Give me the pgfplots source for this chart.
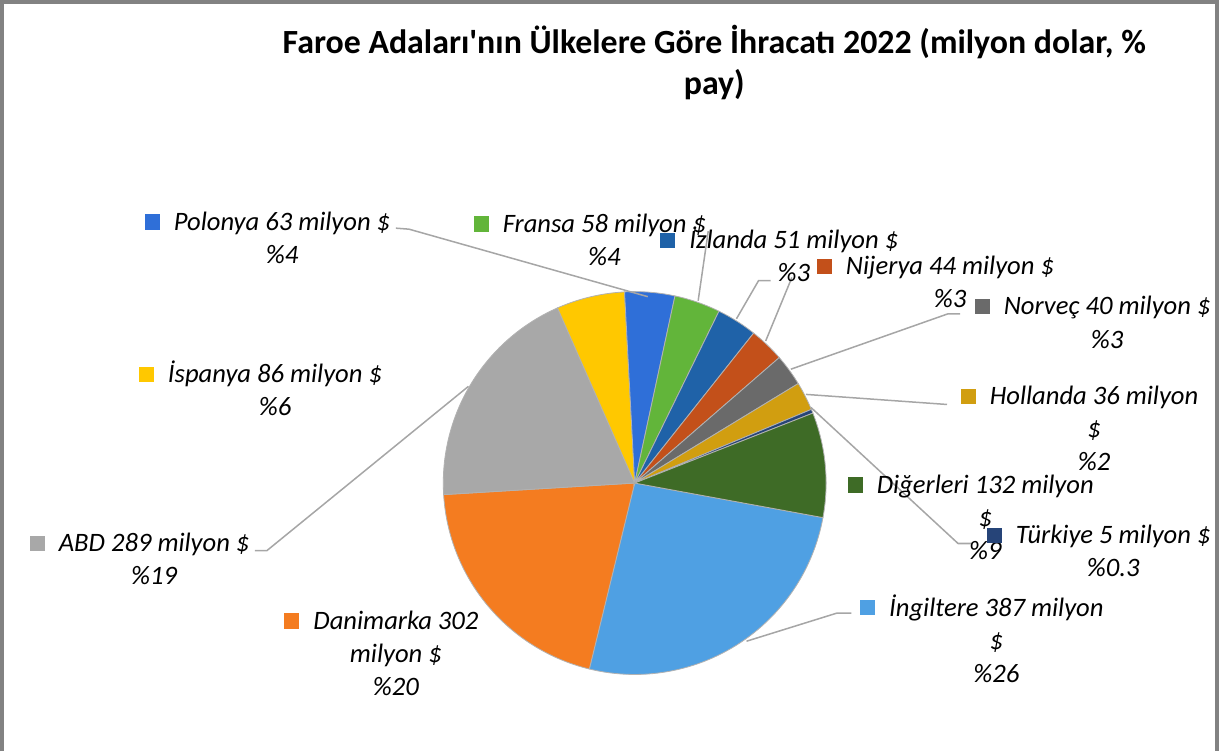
\documentclass[border=0pt]{standalone}
\usepackage{pgfplots}
\pgfplotsset{compat=1.18}
\usepackage{pgfplotstable}
\usepackage{fontspec}
\setmainfont{Carlito}[Ligatures=TeXOff]

\definecolor{c0}{HTML}{4FA0E3}
\definecolor{c1}{HTML}{F47C20}
\definecolor{c2}{HTML}{A8A8A8}
\definecolor{c3}{HTML}{FFC800}
\definecolor{c4}{HTML}{2F6FD8}
\definecolor{c5}{HTML}{62B53A}
\definecolor{c6}{HTML}{1F62A8}
\definecolor{c7}{HTML}{C3501A}
\definecolor{c8}{HTML}{6A6A6A}
\definecolor{c9}{HTML}{D19E10}
\definecolor{c10}{HTML}{264478}
\definecolor{c11}{HTML}{3E6B26}
\definecolor{bordergray}{HTML}{828282}
\definecolor{leadergray}{HTML}{A6A6A6}

% Exports 2022, million USD (data order of the original chart)
\pgfplotstableread{
country value
Ingiltere 387
Danimarka 302
ABD 289
Ispanya 86
Polonya 63
Fransa 58
Izlanda 51
Nijerya 44
Norvec 40
Hollanda 36
Turkiye 5
Digerleri 132
}\pietable

\newcommand\lbl[4]{%
  \node[anchor=base, inner sep=0pt,
        font=\fontsize{13.2}{16.5}\selectfont\itshape]
    at (axis cs:#1,#2)
    {\begin{tabular}[t]{@{}c@{}}\llap{\textcolor{#3}{\rule[0.3pt]{7.5pt}{7.5pt}}\hspace{7pt}}#4\end{tabular}};}

\begin{document}
\begin{tikzpicture}
\begin{axis}[
  x=0.5pt, y=0.5pt,
  xmin=0, xmax=1219, ymin=0, ymax=749,
  scale only axis, hide axis, clip=false,
]
% border
\draw[bordergray, line width=2pt] (axis cs:9,0) -- (axis cs:9,743.5) -- (axis cs:1215,743.5) -- (axis cs:1215,0);

% pie slices
\def\total{0}
\pgfplotsforeachungrouped \i in {0,...,11}{%
  \pgfplotstablegetelem{\i}{value}\of\pietable
  \pgfmathsetmacro\total{\total+\pgfplotsretval}}
\def\cum{0}
\pgfplotsforeachungrouped \i in {0,...,11}{%
  \pgfplotstablegetelem{\i}{value}\of\pietable
  \pgfmathsetmacro\a{100.4+\cum/\total*360}
  \pgfmathsetmacro\cum{\cum+\pgfplotsretval}
  \pgfmathsetmacro\b{100.4+\cum/\total*360}
  \edef\doplot{\noexpand\addplot[draw=black!30, line width=0.4pt, fill=c\i, domain=\a:\b, samples=60] ({637+190*sin(x)},{266+190*cos(x)}) -- (axis cs:637,266) -- cycle;}%
  \doplot
}

% leader lines
\draw[leadergray, line width=0.75pt] (axis cs:400,519) -- (axis cs:413,518) -- (axis cs:650,451);
\draw[leadergray, line width=0.75pt] (axis cs:700,447) -- (axis cs:710,516);
\draw[leadergray, line width=0.75pt] (axis cs:738,429) -- (axis cs:760,467) -- (axis cs:772,467);
\draw[leadergray, line width=0.75pt] (axis cs:767,407) -- (axis cs:793,470);
\draw[leadergray, line width=0.75pt] (axis cs:792,379) -- (axis cs:948,434) -- (axis cs:960,434);
\draw[leadergray, line width=0.75pt] (axis cs:807,354) -- (axis cs:947,344);
\draw[leadergray, line width=0.75pt] (axis cs:812,341) -- (axis cs:958,206) -- (axis cs:972,206);
\draw[leadergray, line width=0.75pt] (axis cs:748,109) -- (axis cs:838,137) -- (axis cs:852,137);
\draw[leadergray, line width=0.75pt] (axis cs:472,362) -- (axis cs:272,199) -- (axis cs:260,199);

% title
\node[anchor=base, inner sep=0pt,
      font=\fontsize{16.8}{20}\selectfont\bfseries]
  at (axis cs:716,692)
  {\begin{tabular}[t]{@{}c@{}}Faroe Adaları'nın Ülkelere Göre İhracatı 2022 (milyon dolar, \%\\pay)\end{tabular}};

% data labels
\lbl{287}{517}{c4}{Polonya 63 milyon \$\\\%4}
\lbl{607}{515}{c5}{Fransa 58 milyon \$\\\%4}
\lbl{795}{499}{c6}{İzlanda 51 milyon \$\\\%3}
\lbl{950}{473}{c7}{Nijerya 44 milyon \$\\\%3}
\lbl{1106}{433}{c8}{Norveç 40 milyon \$\\\%3}
\lbl{1093}{344}{c9}{Hollanda 36 milyon\\\$\\\%2}
\lbl{985}{256}{c11}{Diğerleri 132 milyon\\\$\\\%9}
\lbl{1112}{206}{c10}{Türkiye 5 milyon \$\\\%0.3}
\lbl{996}{134}{c0}{İngiltere 387 milyon\\\$\\\%26}
\lbl{400}{121}{c1}{Danimarka 302\\milyon \$\\\%20}
\lbl{160}{198}{c2}{ABD 289 milyon \$\\\%19}
\lbl{280}{366}{c3}{İspanya 86 milyon \$\\\%6}
\end{axis}
\end{tikzpicture}
\end{document}
